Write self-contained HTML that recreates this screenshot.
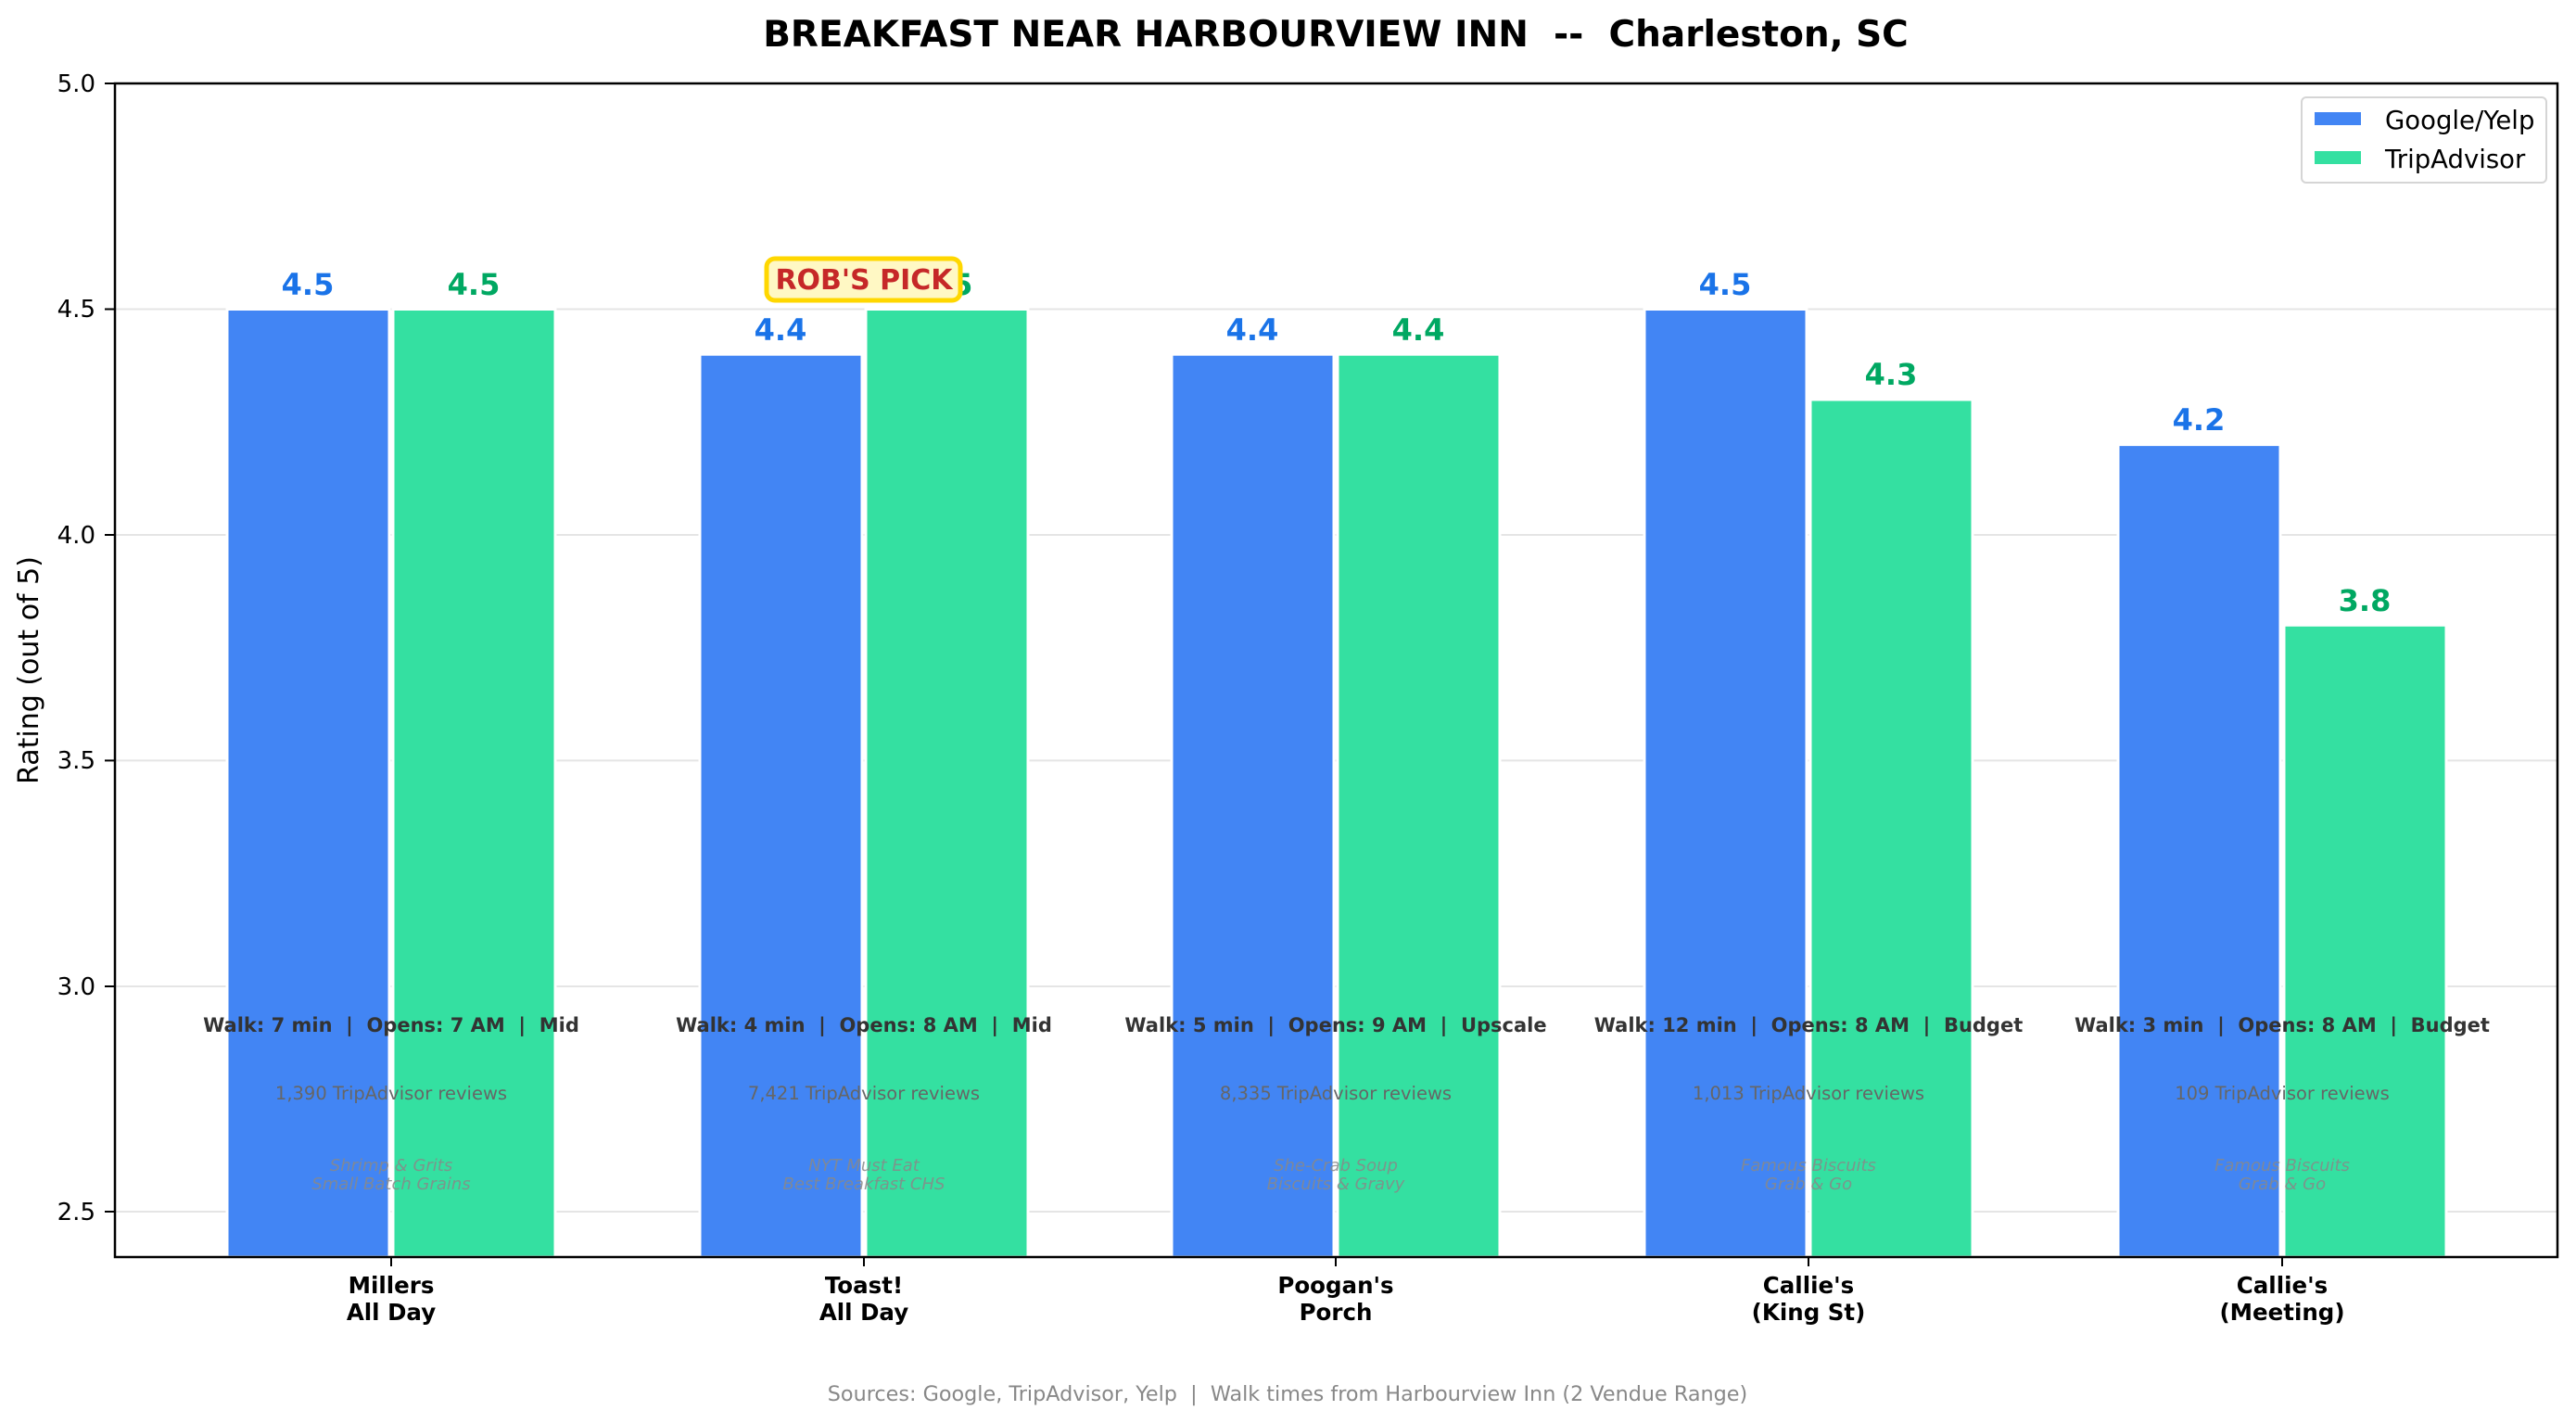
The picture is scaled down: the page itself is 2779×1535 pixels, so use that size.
<!DOCTYPE html>
<html><head><meta charset="utf-8"><style>
html,body{margin:0;padding:0;background:#fff;}
svg{display:block;font-family:"DejaVu Sans","Liberation Sans",sans-serif;}
svg text{white-space:pre;}
</style></head><body>
<svg width="2779" height="1535" viewBox="0 0 2779 1535" xmlns="http://www.w3.org/2000/svg" xml:space="preserve">
<rect width="2779" height="1535" fill="#fff"/>
<text x="1441" y="50" text-anchor="middle" font-size="39" font-weight="bold">BREAKFAST NEAR HARBOURVIEW INN  --  Charleston, SC</text>
<g stroke="#e5e5e5" stroke-width="2">
<line x1="124" x2="2759" y1="333.5" y2="333.5"/>
<line x1="124" x2="2759" y1="577" y2="577"/>
<line x1="124" x2="2759" y1="820.4" y2="820.4"/>
<line x1="124" x2="2759" y1="1064" y2="1064"/>
<line x1="124" x2="2759" y1="1307" y2="1307"/>
</g>
<g stroke="#fff" stroke-width="3">
<rect x="245" y="333.5" width="175" height="1022.5" fill="#4285F4"/>
<rect x="424" y="333.5" width="175" height="1022.5" fill="#34E0A1"/>
<rect x="755" y="382.2" width="175" height="973.8" fill="#4285F4"/>
<rect x="934" y="333.5" width="175" height="1022.5" fill="#34E0A1"/>
<rect x="1264" y="382.2" width="175" height="973.8" fill="#4285F4"/>
<rect x="1443" y="382.2" width="175" height="973.8" fill="#34E0A1"/>
<rect x="1774" y="333.5" width="175" height="1022.5" fill="#4285F4"/>
<rect x="1953" y="431" width="175" height="925" fill="#34E0A1"/>
<rect x="2285" y="479.6" width="175" height="876.4" fill="#4285F4"/>
<rect x="2464" y="674.3" width="175" height="681.7" fill="#34E0A1"/>
</g>
<g font-size="32" font-weight="bold" text-anchor="middle">
<text x="332" y="318" fill="#1A73E8">4.5</text>
<text x="511" y="318" fill="#00A862">4.5</text>
<text x="842" y="367" fill="#1A73E8">4.4</text>
<text x="1021" y="318" fill="#00A862">4.5</text>
<text x="1351" y="367" fill="#1A73E8">4.4</text>
<text x="1530" y="367" fill="#00A862">4.4</text>
<text x="1861" y="318" fill="#1A73E8">4.5</text>
<text x="2040" y="415" fill="#00A862">4.3</text>
<text x="2372" y="464" fill="#1A73E8">4.2</text>
<text x="2551" y="659" fill="#00A862">3.8</text>
</g>
<rect x="827" y="279" width="209" height="45" rx="9" fill="#FFF8C4" stroke="#FFD700" stroke-width="5"/>
<text x="932" y="312" text-anchor="middle" font-size="30" font-weight="bold" fill="#C62828">ROB'S PICK</text>
<g text-anchor="middle">
<g font-size="21" font-weight="bold" fill="#333">
<text x="422" y="1113">Walk: 7 min  |  Opens: 7 AM  |  Mid</text>
<text x="932" y="1113">Walk: 4 min  |  Opens: 8 AM  |  Mid</text>
<text x="1441" y="1113">Walk: 5 min  |  Opens: 9 AM  |  Upscale</text>
<text x="1951" y="1113">Walk: 12 min  |  Opens: 8 AM  |  Budget</text>
<text x="2462" y="1113">Walk: 3 min  |  Opens: 8 AM  |  Budget</text>
</g>
<g font-size="19.5" fill="#666">
<text x="422" y="1186">1,390 TripAdvisor reviews</text>
<text x="932" y="1186">7,421 TripAdvisor reviews</text>
<text x="1441" y="1186">8,335 TripAdvisor reviews</text>
<text x="1951" y="1186">1,013 TripAdvisor reviews</text>
<text x="2462" y="1186">109 TripAdvisor reviews</text>
</g>
<g font-size="18" font-style="italic" fill="#888" fill-opacity="0.85">
<text x="422" y="1263">Shrimp &amp; Grits</text><text x="422" y="1283">Small Batch Grains</text>
<text x="932" y="1263">NYT Must Eat</text><text x="932" y="1283">Best Breakfast CHS</text>
<text x="1441" y="1263">She-Crab Soup</text><text x="1441" y="1283">Biscuits &amp; Gravy</text>
<text x="1951" y="1263">Famous Biscuits</text><text x="1951" y="1283">Grab &amp; Go</text>
<text x="2462" y="1263">Famous Biscuits</text><text x="2462" y="1283">Grab &amp; Go</text>
</g>
</g>
<rect x="124" y="90" width="2635" height="1266" fill="none" stroke="#000" stroke-width="2.5"/>
<g stroke="#000" stroke-width="2">
<line x1="113" x2="124" y1="90" y2="90"/><line x1="113" x2="124" y1="333.5" y2="333.5"/>
<line x1="113" x2="124" y1="577" y2="577"/><line x1="113" x2="124" y1="820.4" y2="820.4"/>
<line x1="113" x2="124" y1="1064" y2="1064"/><line x1="113" x2="124" y1="1307" y2="1307"/>
<line x1="422" x2="422" y1="1356" y2="1366"/><line x1="932" x2="932" y1="1356" y2="1366"/>
<line x1="1441" x2="1441" y1="1356" y2="1366"/><line x1="1951" x2="1951" y1="1356" y2="1366"/>
<line x1="2462" x2="2462" y1="1356" y2="1366"/>
</g>
<g font-size="26" text-anchor="end">
<text x="103" y="99">5.0</text><text x="103" y="342">4.5</text><text x="103" y="586">4.0</text>
<text x="103" y="829">3.5</text><text x="103" y="1073">3.0</text><text x="103" y="1316">2.5</text>
</g>
<text transform="translate(41,723) rotate(-90)" text-anchor="middle" font-size="30">Rating (out of 5)</text>
<g font-size="24.5" font-weight="bold" text-anchor="middle">
<text x="422" y="1395">Millers</text><text x="422" y="1424">All Day</text>
<text x="932" y="1395">Toast!</text><text x="932" y="1424">All Day</text>
<text x="1441" y="1395">Poogan's</text><text x="1441" y="1424">Porch</text>
<text x="1951" y="1395">Callie's</text><text x="1951" y="1424">(King St)</text>
<text x="2462" y="1395">Callie's</text><text x="2462" y="1424">(Meeting)</text>
</g>
<rect x="2483" y="105" width="264" height="92" rx="5" fill="#fff" fill-opacity="0.9" stroke="#d5d5d5" stroke-width="2"/>
<rect x="2497" y="121" width="50" height="14" fill="#4285F4"/>
<rect x="2497" y="163" width="50" height="14" fill="#34E0A1"/>
<text x="2573" y="139" font-size="27.5">Google/Yelp</text>
<text x="2573" y="181" font-size="27.5">TripAdvisor</text>
<text x="1389" y="1511" text-anchor="middle" font-size="22.3" fill="#888">Sources: Google, TripAdvisor, Yelp  |  Walk times from Harbourview Inn (2 Vendue Range)</text>
</svg>
</body></html>
